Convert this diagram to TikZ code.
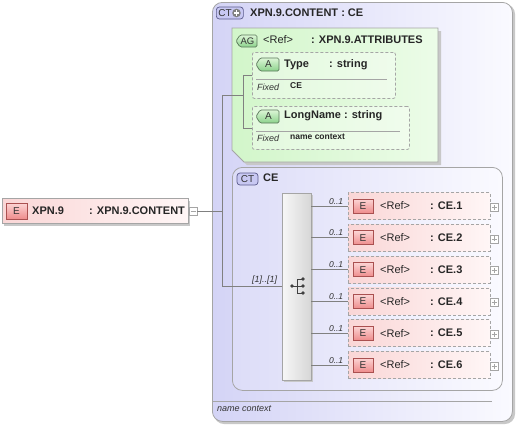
\documentclass[tikz,border=0pt]{standalone}
\usepackage{fontspec}
\setmainfont{Liberation Sans}
\definecolor{lav}{RGB}{212,212,246}
\definecolor{lavw}{RGB}{250,250,255}
\definecolor{grn}{RGB}{210,246,202}
\definecolor{grnw}{RGB}{236,252,232}
\definecolor{pinkL}{RGB}{250,214,214}
\definecolor{pinkW}{RGB}{255,246,246}
\definecolor{bord}{RGB}{165,165,165}
\definecolor{shad}{RGB}{200,200,200}
\definecolor{ebT}{RGB}{252,212,212}
\definecolor{ebB}{RGB}{238,140,140}
\definecolor{ebD}{RGB}{170,80,80}
\definecolor{abT}{RGB}{220,246,214}
\definecolor{abB}{RGB}{140,210,140}
\definecolor{abD}{RGB}{90,120,90}
\definecolor{ctF}{RGB}{200,200,242}
\definecolor{ctD}{RGB}{90,90,140}
\definecolor{conn}{RGB}{128,128,128}
\tikzset{
  lbl/.style={inner sep=0pt, font=\fontsize{11}{13}\selectfont\bfseries, text=black!85},
  txt/.style={inner sep=0pt, font=\fontsize{11}{13}\selectfont, text=black!85},
  mult/.style={inner sep=1pt, font=\fontsize{8.5}{10}\selectfont\itshape, text=black!80},
  small/.style={inner sep=0pt, font=\fontsize{8.5}{10}\selectfont\bfseries, text=black!85},
  smallit/.style={inner sep=0pt, font=\fontsize{9}{10}\selectfont\itshape, text=black!80},
  connline/.style={draw=conn, line width=0.8pt},
  elembox/.style={draw=bord, line width=0.8pt, left color=pinkL, right color=pinkW, inner sep=0pt},
  rowbox/.style={draw=bord, dashed, dash pattern=on 3pt off 2pt, line width=0.8pt, left color=pinkL, right color=pinkW, inner sep=0pt},
  attbox/.style={draw=bord, dash pattern=on 3pt off 2pt, line width=0.8pt, fill=white, fill opacity=0.35, text opacity=1, inner sep=0pt, rounded corners=2pt},
  ebadge/.style={draw=ebD, line width=0.7pt, top color=ebT, bottom color=ebB, inner sep=0pt, font=\fontsize{10}{12}\selectfont, text=black!80},
  ctbadge/.style={draw=ctD, line width=0.7pt, fill=ctF, rounded corners=3pt, inner sep=0pt, font=\fontsize{10}{12}\selectfont, text=black!80},
  pm/.style={draw=bord, fill=white, minimum size=8pt, inner sep=0pt, line width=0.6pt},
  seqbox/.style={draw=bord, line width=0.8pt, left color=black!3, right color=black!16, inner sep=0pt},
}
\begin{document}
\begin{tikzpicture}[x=1pt,y=-1pt]
\useasboundingbox (0,0) rectangle (516,424);

% ---------- main complex type box ----------
\fill[shad, rounded corners=10pt] (214,4) rectangle (515,424);
\node[draw=bord, line width=0.8pt, left color=lav, right color=lavw, rounded corners=10pt,
      minimum width=300, minimum height=419, anchor=north west, inner sep=0pt] (main) at (212,2) {};
\node[ctbadge, minimum width=27, minimum height=12, anchor=west] (ctb) at (216,13) {};
\node[inner sep=0pt, font=\fontsize{10}{12}\selectfont, text=black!80] (ctbt) at (225,13) {CT};
\fill[black!50] (236.5,13) circle (4.3);
\draw[white, line width=1.5pt] (233.8,13) -- (239.2,13) (236.5,10.3) -- (236.5,15.7);
\node[lbl, anchor=west] (maintitle) at (250,13) {XPN.9.CONTENT : CE};
\draw[bord, line width=0.7pt] (212,401) -- (492,401);
\node[smallit, anchor=west] (mainfoot) at (217,409) {name context};

% ---------- attribute group ----------
\fill[shad] (235,31) -- (441,31) -- (441,165) -- (247,165) -- (235,153) -- cycle;
\path[draw=bord, line width=0.8pt, left color=grn, right color=grnw]
  (232,28) -- (438,28) -- (438,162) -- (244,162) -- (232,150) -- cycle;
\path[draw=abD, line width=0.7pt, top color=abT, bottom color=abB, rounded corners=1.5pt]
  (240,35) -- (257,35) -- (257,47) -- (240,47) -- (236,41) -- cycle;
\node[inner sep=0pt, font=\fontsize{9.5}{10}\selectfont, text=black!80] (agb) at (247.5,41) {AG};
\node[txt, anchor=west] (agref) at (263,40) {<Ref>};
\node[lbl, anchor=west] (agtype) at (311,40) {: XPN.9.ATTRIBUTES};

% Type attribute
\node[attbox, minimum width=143, minimum height=46, anchor=north west] (type) at (252,52) {};
\path[draw=abD, line width=0.7pt, top color=abT, bottom color=abB, rounded corners=1.5pt]
  (260,58) -- (279,58) -- (279,71) -- (260,71) -- (256,64.5) -- cycle;
\node[inner sep=0pt, font=\fontsize{10}{12}\selectfont, text=black!80] (tA) at (268.5,64.5) {A};
\node[lbl, anchor=west] (tname) at (284,65) {Type};
\node[lbl, anchor=west] (ttype) at (329,65) {: string};
\draw[bord, line width=0.7pt] (256,79) -- (387,79);
\node[smallit, anchor=west] (tfix) at (257,87) {Fixed};
\node[small, anchor=west] (tval) at (290,86) {CE};

% LongName attribute
\node[attbox, minimum width=157, minimum height=43, anchor=north west] (lname) at (252,106) {};
\path[draw=abD, line width=0.7pt, top color=abT, bottom color=abB, rounded corners=1.5pt]
  (260,110) -- (279,110) -- (279,123) -- (260,123) -- (256,116.5) -- cycle;
\node[inner sep=0pt, font=\fontsize{10}{12}\selectfont, text=black!80] (lA) at (268.5,116.5) {A};
\node[lbl, anchor=west] (lnname) at (284,116) {LongName : string};
\draw[bord, line width=0.7pt] (256,131) -- (400,131);
\node[smallit, anchor=west] (lfix) at (257,138) {Fixed};
\node[small, anchor=west] (lval) at (290,137) {name context};

% ---------- CE complex type ----------
\node[draw=bord, line width=0.8pt, left color=lav!80, right color=lavw, rounded corners=10pt,
      minimum width=270, minimum height=223, anchor=north west, inner sep=0pt] (cebox) at (232,167) {};
\node[ctbadge, minimum width=21, minimum height=12] (ceb) at (247.5,179) {CT};
\node[lbl, anchor=west] (cetitle) at (263,178) {CE};

% sequence
\fill[shad] (284,195) rectangle (313,382);
\node[seqbox, minimum width=29, minimum height=187] (seq) at (296.5,286.5) {};
\draw[black!75, line width=0.8pt] (292,286) -- (297,286) (297,279) -- (297,293)
  (297,279) -- (303,279) (297,286) -- (303,286) (297,293) -- (303,293);
\fill[black!75] (292,286) circle (1.9) (303,279) circle (1.9) (303,286) circle (1.9) (303,293) circle (1.9);

% rows
\foreach \i in {1,...,6}{
  \pgfmathsetmacro{\yy}{206+(\i-1)*31.8}
  \node[rowbox, minimum width=142, minimum height=27] (r\i) at (419,\yy) {};
  \node[ebadge, minimum width=20, minimum height=14] (rb\i) at (363,\yy) {E};
  \node[txt, anchor=west] (rr\i) at (380,\yy) {<Ref>};
  \node[lbl, anchor=west] (rt\i) at (430,\yy) {: CE.\i};
  \node[pm] (p\i) at (494,\yy+1) {};
  \draw[bord, line width=0.6pt] ([xshift=-2.5pt]p\i.center) -- ([xshift=2.5pt]p\i.center)
     ([yshift=-2.5pt]p\i.center) -- ([yshift=2.5pt]p\i.center);
  \draw[connline] (seq.east |- r\i.west) -- (r\i.west)
     node[mult, pos=1, anchor=south east, xshift=-3pt, yshift=0.5pt] {0..1};
}

% ---------- root element ----------
\fill[shad] (4,201) rectangle (190,226);
\node[elembox, minimum width=186, minimum height=25] (xpn) at (95,211) {};
\node[ebadge, minimum width=21, minimum height=16] (xpnb) at (16.5,211) {E};
\node[lbl, anchor=west] (xpnname) at (32,211) {XPN.9};
\node[lbl, anchor=west] (xpntype) at (89,211) {: XPN.9.CONTENT};
\node[pm] (xpnm) at (193,211) {};
\draw[bord, line width=0.6pt] ([xshift=-2.5pt]xpnm.center) -- ([xshift=2.5pt]xpnm.center);

% ---------- connectors ----------
\coordinate (t1) at (222,95);
\coordinate (b1) at (243,95);
\draw[connline] (xpnm.east) -- (xpnm.east -| t1);
\draw[connline] (t1) -- (t1 |- seq.west) -- (seq.west)
   node[mult, pos=1, anchor=south east, xshift=-3pt, yshift=1pt, font=\fontsize{9}{10}\selectfont\itshape] {[1]..[1]};
\draw[connline] (t1) -- (b1);
\draw[connline] (b1 |- type.west) -- (b1 |- lname.west);
\draw[connline] (b1 |- type.west) -- (type.west);
\draw[connline] (b1 |- lname.west) -- (lname.west);
\end{tikzpicture}
\end{document}
